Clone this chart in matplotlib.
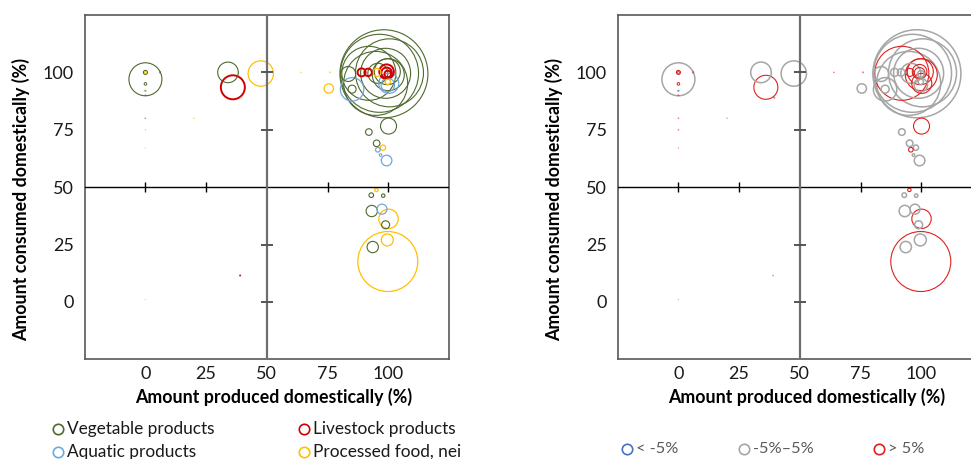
import matplotlib.pyplot as plt
from matplotlib.lines import Line2D

plt.rcParams['font.family'] = ['Lato', 'DejaVu Sans']

# share of each commodity produced / consumed domestically (%), and traded volume
produced = [0, 0, 0, 0, 0, 0, 6, 34, 36, 39.5, 47.5, 0, 0, 0, 20, 39, 0, 64, 76, 75.5,
            98.2, 96.4, 100.5, 94.8, 92, 98.9, 83.5, 85.1, 95.7, 100, 99.6,
            89, 91.7, 99.3, 99.3, 99.8, 95.3, 99.8, 85.1, 100.2, 99.8,
            100.1, 92, 95.2, 97.8, 95.7, 96.8, 99.3,
            95.1, 93, 97.9, 93.2, 97.4, 100.1, 98.9, 99.6, 93.6, 99.8]
consumed = [97, 100, 100, 95, 92, 90, 100, 100, 93.5, 89, 99.5, 80, 75, 67, 80, 11.5, 1, 100, 100, 93,
            99.4, 99.6, 99.8, 95.2, 99.6, 99.6, 99.3, 92.7, 99.6, 99, 100.3,
            100, 100, 100.3, 99.8, 99.3, 100, 95.9, 92.6, 95.2, 94.5,
            76.6, 74, 69.1, 67.2, 66.3, 64, 61.6,
            48.8, 46.5, 46.3, 39.6, 40.4, 36.2, 33.6, 27, 23.9, 17.6]
volume = [272, 4, 1, 1.7, 0.5, 0.4, 0.6, 106, 144, 0.4, 161, 0.25, 0.25, 0.15, 0.25, 0.35, 0.15, 0.25, 0.35, 22,
          1936, 1521, 1156, 1024, 729, 625, 56, 16, 100, 256, 169,
          16, 14, 53, 28, 11, 16, 7, 137, 100, 45,
          64, 11, 11, 7, 5.3, 1.7, 28,
          2.9, 5.3, 2.9, 32, 25, 94, 16, 36, 32, 900]
group = ['V', 'V', 'P', 'V', 'V', 'V', 'V', 'V', 'L', 'P', 'P', 'V', 'P', 'P', 'P', 'L', 'P', 'P', 'P', 'P',
         'V', 'V', 'V', 'V', 'V', 'V', 'V', 'V', 'V', 'V', 'V',
         'L', 'L', 'L', 'L', 'L', 'P', 'P', 'A', 'A', 'A',
         'V', 'V', 'V', 'P', 'A', 'A', 'A',
         'P', 'V', 'V', 'V', 'A', 'P', 'V', 'P', 'V', 'P']
change = ['mid', 'hi', 'hi', 'hi', 'lo', 'hi', 'hi', 'mid', 'hi', 'hi', 'mid', 'hi', 'hi', 'hi', 'mid', 'mid', 'mid', 'hi', 'hi', 'mid',
          'mid', 'mid', 'mid', 'mid', 'hi', 'mid', 'mid', 'mid', 'mid', 'hi', 'hi',
          'mid', 'mid', 'hi', 'hi', 'mid', 'hi', 'mid', 'mid', 'hi', 'mid',
          'hi', 'mid', 'mid', 'mid', 'hi', 'mid', 'mid',
          'hi', 'mid', 'mid', 'mid', 'mid', 'hi', 'mid', 'mid', 'mid', 'hi']

group_keys = ['V', 'L', 'A', 'P']
group_names = ['Vegetable products', 'Livestock products', 'Aquatic products', 'Processed food, nei']
change_keys = ['lo', 'mid', 'hi']
change_names = ['< -5%', '-5%\u20135%', '> 5%']
axis_ticks = [0, 25, 50, 75, 100]

group_colors = {'V': '#4E6A2E', 'L': '#D00000', 'A': '#6FA8DC', 'P': '#FFC000'}
group_widths = {'V': 0.8, 'L': 1.4, 'A': 0.9, 'P': 0.9}
change_colors = {'lo': '#4472C4', 'mid': '#A6A6A6', 'hi': '#E02020'}
change_widths = {'lo': 1.0, 'mid': 1.1, 'hi': 0.8}

SIZE = (2 * 0.72) ** 2  # volume -> marker area (pt^2) at 100 dpi
W, H = 971, 459


def draw_panel(ax, colors, widths):
    order = sorted(range(len(volume)), key=lambda i: -volume[i])
    # very small bubbles get a thinner outline so they stay faint
    lws = [widths[i] * min(1.0, volume[i] ** 0.5 / 1.5) for i in order]
    ax.scatter([produced[i] for i in order], [consumed[i] for i in order],
               s=[volume[i] * SIZE for i in order], facecolors='none',
               edgecolors=[colors[i] for i in order], linewidths=lws, zorder=2)
    ax.set_xlim(-25, 125)
    ax.set_ylim(-25, 125)

    # quadrant lines crossing at 50/50 with their own tick marks
    ax.axhline(50, color='black', lw=1.0, zorder=3)
    ax.axvline(50, color='#6E6E6E', lw=1.6, zorder=3)
    other = [t for t in axis_ticks if t != 50]
    ax.plot(other, [50] * len(other), ls='none', marker='|', ms=7.5, mew=1.0, color='black', zorder=4)
    ax.plot([50] * len(other), other, ls='none', marker='_', ms=8.5, mew=1.4, color='#555555', zorder=4)

    ax.set_xticks(axis_ticks)
    ax.set_yticks(axis_ticks)
    ax.tick_params(length=0, labelsize=13, colors='#1a1a1a')
    ax.tick_params(axis='x', pad=5)
    ax.tick_params(axis='y', pad=8)
    for sp in ax.spines.values():
        sp.set_color('#595959')
        sp.set_linewidth(1.2)

    ax.text(0.518, -0.110, 'Amount produced domestically (%)', transform=ax.transAxes,
            ha='center', va='center', fontsize=12.8, fontweight='bold')
    ax.text(-0.175, 0.464, 'Amount consumed domestically (%)', transform=ax.transAxes,
            ha='center', va='center', rotation=90, fontsize=12.8, fontweight='bold')


def legend_item(fig, px, py, color, label, size, text_color, mew):
    fig.add_artist(Line2D([px / W], [1 - py / H], transform=fig.transFigure, marker='o',
                          ms=7.5, mfc='none', mec=color, mew=mew, ls='none'))
    fig.text((px + 9) / W, 1 - py / H, label, ha='left', va='center',
             fontsize=size, color=text_color)


fig = plt.figure(figsize=(W / 100, H / 100), dpi=100)
ax1 = fig.add_axes([84.7 / W, 1 - 359.3 / H, 364.3 / W, 344.3 / H])
ax2 = fig.add_axes([617.7 / W, 1 - 359.3 / H, 364.3 / W, 344.3 / H])

draw_panel(ax1, [group_colors[g] for g in group], [group_widths[g] for g in group])
draw_panel(ax2, [change_colors[c] for c in change], [change_widths[c] for c in change])

legend_pos = [(57.7, 429.3), (303.7, 429.3), (57.7, 451.7), (303.7, 451.7)]
for (px, py), key, name in zip(legend_pos, group_keys, group_names):
    legend_item(fig, px, py, group_colors[key], name, 12.4, '#1a1a1a', 1.2)

change_pos = [(626.7, 449), (744.3, 449), (879.3, 449)]
for (px, py), key, name in zip(change_pos, change_keys, change_names):
    legend_item(fig, px, py, change_colors[key], name, 11.8, '#595959', 1.2)

fig.savefig('out.png', dpi=100)
